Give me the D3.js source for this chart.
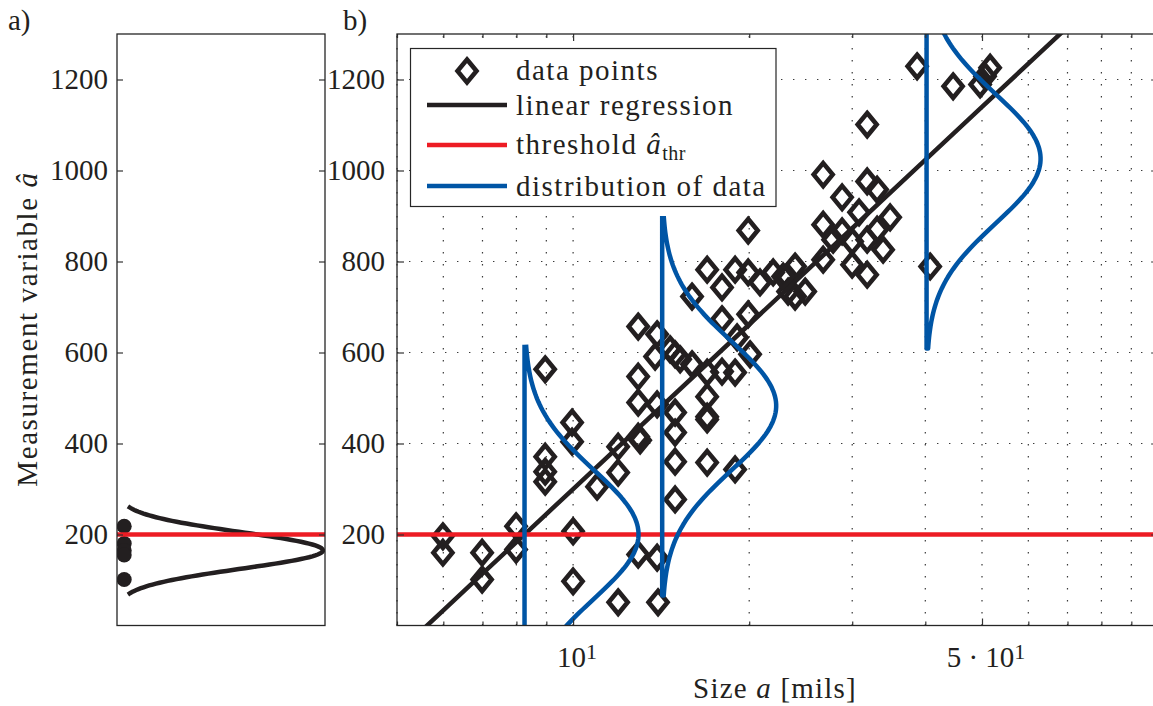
<!DOCTYPE html>
<html>
<head>
<meta charset="utf-8">
<script src="https://cdn.jsdelivr.net/npm/d3@7"></script>
<style>
  body { margin: 0; background: #fff; }
  text { font-family: "Liberation Serif", "DejaVu Serif", serif; fill: #231F20; }
</style>
</head>
<body>
<div id="chart"></div>
<script>
// measured data points: size a [mils] and measurement variable â
const sizeA = [5.99, 5.99, 6.99, 6.99, 7.99, 7.99, 10.0, 10.0, 11.94, 13.97, 12.92, 13.92,
  19.92, 16.95, 18.92, 19.92, 20.87, 21.98, 23.22, 17.97, 15.97, 23.31, 17.97, 19.92, 19.07, 20.07,
  12.92, 13.92, 13.81, 14.94, 14.65, 15.24, 15.97, 16.95, 17.97, 18.92, 12.92, 8.96,
  12.92, 13.92, 14.94, 16.95, 16.95, 16.95, 14.94, 11.94, 12.92, 9.96, 9.96, 8.96, 8.96, 8.96,
  11.94, 10.99, 14.94, 16.95, 18.92, 14.94, 13.02,
  38.73, 44.63, 49.63, 51.63, 50.6, 31.82, 26.76, 31.82, 33.09, 28.83, 34.83, 30.82, 26.76,
  33.09, 28.83, 27.83, 29.99, 31.82, 33.88, 26.76, 29.99, 31.82, 23.96, 22.86, 23.96, 24.93, 40.77];
const ampA = [196, 160, 160, 101, 218, 167, 207, 97, 51, 51, 156, 149,
  868, 782, 782, 776, 754, 776, 767, 743, 723, 734, 673, 684, 633, 596,
  657, 640, 591, 596, 607, 585, 574, 556, 558, 556, 547, 563,
  490, 486, 468, 503, 459, 453, 424, 393, 415, 446, 404, 371, 338, 316,
  336, 305, 360, 358, 343, 277, 407,
  1229, 1185, 1189, 1226, 1207, 1101, 991, 976, 958, 941, 897, 908, 881,
  870, 866, 848, 844, 848, 826, 804, 793, 771, 789, 767, 723, 734, 789];

// panel a: observed â values near the threshold
const panelADots = [218, 180, 165, 155, 101];
const panelAMean = 165, panelASigma = 40, panelAHalf = 97;

const threshold = 200;
// linear regression â = b0 + b1 * log10(a)
const regB0 = -901.5, regB1 = 1201.4;
// sizes where the scatter distribution is shown
const distSizes = [8.26, 14.2, 40.2];
const distSigma = 142, distHalf = 417;

const yTicks = [200, 400, 600, 800, 1000, 1200];
const xGridVals = [5, 6, 7, 8, 9, 10, 20, 30, 40, 50, 60, 70, 80, 90, 100];
const xLabelVals = [10, 50];
const xLabelText = [["10", "1"], ["5 \u00B7 10", "1"]];

const ink = "#231F20", red = "#ED1C24", blue = "#0055A5";

const svg = d3.select("#chart").append("svg")
    .attr("width", 1153).attr("height", 706);

const y = d3.scaleLinear().domain([0, 1300]).range([625.5, 34]);
const xA = d3.scaleLinear().domain([0, 1.01]).range([117, 325]);
const xB = d3.scaleLog().domain([5, 100]).range([397, 1158.1]);

const defs = svg.append("defs");
defs.append("clipPath").attr("id", "clipA").append("rect")
    .attr("x", xA(0)).attr("y", y(1300)).attr("width", xA(1.01) - xA(0)).attr("height", y(0) - y(1300));
defs.append("clipPath").attr("id", "clipB").append("rect")
    .attr("x", xB(5)).attr("y", y(1300)).attr("width", xB(100) - xB(5)).attr("height", y(0) - y(1300));

const diamond = "M0,-11.5L9.5,0L0,11.5L-9.5,0Z";

// ---------- panel a ----------
const gA = svg.append("g");
const plotA = gA.append("g").attr("clip-path", "url(#clipA)");

plotA.selectAll("circle").data(panelADots).join("circle")
    .attr("cx", xA(0.035)).attr("cy", d => y(d)).attr("r", 7.5).attr("fill", ink);

const curveA = d3.range(-panelAHalf, panelAHalf + 0.1, 2).map(dv => ({
    v: panelAMean + dv,
    p: Math.exp(-0.5 * (dv / panelASigma) ** 2)
}));
plotA.append("path")
    .datum(curveA)
    .attr("d", d3.line().x(d => xA(d.p)).y(d => y(d.v)))
    .attr("fill", "none").attr("stroke", ink).attr("stroke-width", 4.5);

plotA.append("line")
    .attr("x1", xA(0)).attr("x2", xA(1.01)).attr("y1", y(threshold)).attr("y2", y(threshold))
    .attr("stroke", red).attr("stroke-width", 4.5);

// axes a
const axA = gA.append("g").attr("transform", "translate(" + xA(0) + ",0)")
    .call(d3.axisLeft(y).tickValues(yTicks).tickFormat(d3.format("d"))
        .tickSizeInner(-6).tickSizeOuter(0).tickPadding(9));
const axA2 = gA.append("g").attr("transform", "translate(" + xA(1.01) + ",0)")
    .call(d3.axisRight(y).tickValues(yTicks).tickSizeInner(-6).tickSizeOuter(0).tickFormat(""));
[axA, axA2].forEach(a => {
    a.attr("font-family", null);
    a.select(".domain").remove();
    a.selectAll("line").attr("stroke", "#333").attr("stroke-width", 1.2);
    a.selectAll("text").style("font-size", "29px").attr("fill", ink);
});
gA.append("rect")
    .attr("x", xA(0)).attr("y", y(1300)).attr("width", xA(1.01) - xA(0)).attr("height", y(0) - y(1300))
    .attr("fill", "none").attr("stroke", "#262626").attr("stroke-width", 1.3);

// ---------- panel b ----------
const gB = svg.append("g");

// dotted grid
gB.append("g").selectAll("line").data(xGridVals).join("line")
    .attr("x1", d => xB(d)).attr("x2", d => xB(d))
    .attr("y1", y(0)).attr("y2", y(1300))
    .attr("stroke", "#3a3a3a").attr("stroke-width", 1.2).attr("stroke-dasharray", "1.4,10.6");
gB.append("g").selectAll("line").data(yTicks).join("line")
    .attr("x1", xB(5)).attr("x2", xB(100))
    .attr("y1", d => y(d)).attr("y2", d => y(d))
    .attr("stroke", "#3a3a3a").attr("stroke-width", 1.2).attr("stroke-dasharray", "1.4,10.6");

const plotB = gB.append("g").attr("clip-path", "url(#clipB)");

plotB.append("g").selectAll("path").data(sizeA.map((a, i) => [a, ampA[i]])).join("path")
    .attr("d", diamond)
    .attr("transform", d => "translate(" + xB(d[0]) + "," + y(d[1]) + ")")
    .attr("fill", "none").attr("stroke", ink).attr("stroke-width", 4.6);

plotB.append("path")
    .datum(xGridVals)
    .attr("d", d3.line().x(d => xB(d)).y(d => y(regB0 + regB1 * Math.log10(d))))
    .attr("fill", "none").attr("stroke", ink).attr("stroke-width", 4.5);

plotB.append("line")
    .attr("x1", xB(5)).attr("x2", xB(100)).attr("y1", y(threshold)).attr("y2", y(threshold))
    .attr("stroke", red).attr("stroke-width", 4.5);

distSizes.forEach(a0 => {
    const m = regB0 + regB1 * Math.log10(a0);
    const x0 = xB(a0);
    const pts = [[x0, y(m + distHalf)], [x0, y(m - distHalf)]];
    d3.range(-distHalf, distHalf + 0.1, 6).forEach(dv => {
        pts.push([x0 + 114 * Math.exp(-0.5 * (dv / distSigma) ** 2), y(m + dv)]);
    });
    plotB.append("path")
        .attr("d", d3.line()(pts))
        .attr("fill", "none").attr("stroke", blue).attr("stroke-width", 4.5)
        .attr("stroke-linejoin", "round");
});

// axes b
const axB = gB.append("g").attr("transform", "translate(" + xB(5) + ",0)")
    .call(d3.axisLeft(y).tickValues(yTicks).tickFormat(d3.format("d"))
        .tickSizeInner(-7).tickSizeOuter(0).tickPadding(12));
const axB2 = gB.append("g").attr("transform", "translate(" + xB(100) + ",0)")
    .call(d3.axisRight(y).tickValues(yTicks).tickSizeInner(-7).tickSizeOuter(0).tickFormat(""));
const axB3 = gB.append("g").attr("transform", "translate(0," + y(0) + ")")
    .call(d3.axisBottom(xB).tickValues(xGridVals).tickSizeInner(-4).tickSizeOuter(0).tickFormat(""));
const axB4 = gB.append("g").attr("transform", "translate(0," + y(1300) + ")")
    .call(d3.axisTop(xB).tickValues(xGridVals).tickSizeInner(-4).tickSizeOuter(0).tickFormat(""));
[axB, axB2, axB3, axB4].forEach(a => {
    a.attr("font-family", null);
    a.select(".domain").remove();
    a.selectAll("line").attr("stroke", "#333").attr("stroke-width", 1.2);
    a.selectAll("text").style("font-size", "29px").attr("fill", ink);
});
axB3.selectAll(".tick line").filter(d => xLabelVals.includes(d)).attr("y2", -7);
axB4.selectAll(".tick line").filter(d => xLabelVals.includes(d)).attr("y2", 7);

gB.append("rect")
    .attr("x", xB(5)).attr("y", y(1300)).attr("width", xB(100) - xB(5)).attr("height", y(0) - y(1300))
    .attr("fill", "none").attr("stroke", "#262626").attr("stroke-width", 1.3);

// x tick labels with superscripts
xLabelVals.forEach((v, i) => {
    const t = gB.append("text")
        .attr("x", xB(v) + 4).attr("y", 667)
        .attr("text-anchor", "middle").style("font-size", "29px");
    t.append("tspan").text(xLabelText[i][0]);
    t.append("tspan").attr("dy", -8).style("font-size", "22px").text(xLabelText[i][1]);
});

// legend
const lg = gB.append("g");
lg.append("rect").attr("x", 410.5).attr("y", 48.5).attr("width", 365.5).attr("height", 158)
    .attr("fill", "#fff").attr("stroke", "#262626").attr("stroke-width", 1.2);
lg.append("path").attr("d", diamond).attr("transform", "translate(467,71)")
    .attr("fill", "none").attr("stroke", ink).attr("stroke-width", 4.6);
[[105, ink], [145, red], [186, blue]].forEach(r => {
    lg.append("line").attr("x1", 427).attr("x2", 507).attr("y1", r[0]).attr("y2", r[0])
        .attr("stroke", r[1]).attr("stroke-width", 4.5);
});
const legendText = (yy) => lg.append("text").attr("x", 516).attr("y", yy)
    .style("font-size", "29px").style("letter-spacing", "1.5px");
legendText(80).text("data points");
legendText(115).text("linear regression");
const thr = legendText(154);
thr.append("tspan").text("threshold ");
thr.append("tspan").style("font-style", "italic").text("\u00E2");
thr.append("tspan").attr("dy", 6).style("font-size", "20px").style("letter-spacing", "0.5px").text("thr");
legendText(196).text("distribution of data");

// axis titles
const xt = svg.append("text").attr("x", 775).attr("y", 698).attr("text-anchor", "middle")
    .style("font-size", "29px").style("letter-spacing", "1.2px");
xt.append("tspan").text("Size ");
xt.append("tspan").style("font-style", "italic").text("a");
xt.append("tspan").text(" [mils]");

const yt = svg.append("text").attr("transform", "translate(37,329) rotate(-90)").attr("text-anchor", "middle")
    .style("font-size", "29px").style("letter-spacing", "1.6px");
yt.append("tspan").text("Measurement variable ");
yt.append("tspan").style("font-style", "italic").text("\u00E2");

svg.append("text").attr("x", 8).attr("y", 30).style("font-size", "29px").text("a)");
svg.append("text").attr("x", 343).attr("y", 30).style("font-size", "29px").text("b)");
</script>
</body>
</html>
